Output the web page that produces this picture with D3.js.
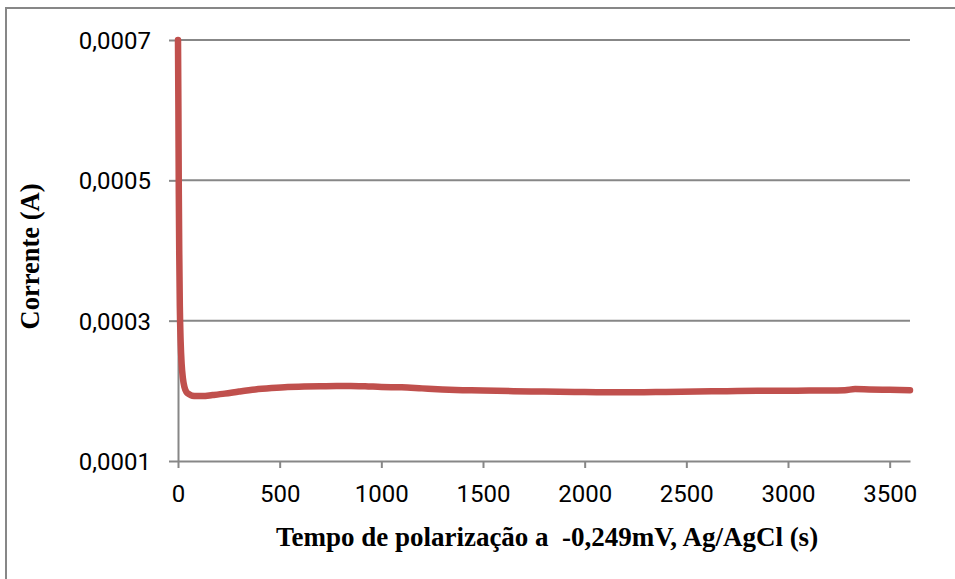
<!DOCTYPE html>
<html>
<head>
<meta charset="utf-8">
<script src="https://cdn.jsdelivr.net/npm/d3@7"></script>
<style>
  html, body { margin: 0; padding: 0; background: #fff; }
  svg { display: block; }
  .tick-label { font-family: Roboto, "Open Sans", sans-serif; font-size: 24px; fill: #000; }
  .axis-title { font-family: "Liberation Serif", "Times New Roman", serif; font-weight: bold; font-size: 26.5px; fill: #000; white-space: pre; }
</style>
</head>
<body>
<script>
// Chronoamperometry: current vs. polarization time
const timeS = [0, 2, 4, 6, 9, 13, 18, 24, 32, 42, 55, 70, 90, 120, 170, 230, 300, 380, 460, 540, 620, 700, 780, 850, 920, 1000, 1100, 1200, 1300, 1400, 1500, 1650, 1800, 1950, 2100, 2250, 2400, 2550, 2700, 2850, 3000, 3150, 3280, 3330, 3400, 3500, 3600];
const currentA = [0.00070, 0.00060, 0.00048, 0.00040, 0.00032, 0.00027, 0.000238, 0.000218, 0.000205, 0.000198, 0.000195, 0.000193, 0.0001925, 0.0001925, 0.000194, 0.000196, 0.000199, 0.000202, 0.000204, 0.0002055, 0.000206, 0.0002065, 0.000207, 0.000207, 0.0002065, 0.0002055, 0.000205, 0.0002035, 0.000202, 0.000201, 0.0002005, 0.0001995, 0.000199, 0.0001985, 0.000198, 0.000198, 0.0001985, 0.000199, 0.0001995, 0.0002, 0.0002, 0.0002005, 0.000201, 0.0002025, 0.000202, 0.0002015, 0.000201];
const xTicks = [0, 500, 1000, 1500, 2000, 2500, 3000, 3500];
const yTicks = [0.0001, 0.0003, 0.0005, 0.0007];
const yTickLabels = ["0,0001", "0,0003", "0,0005", "0,0007"];
const xTitle = "Tempo de polarização a  -0,249mV, Ag/AgCl (s)";
const yTitle = "Corrente (A)";

const W = 955, H = 579;
const plot = { left: 178, right: 910, top: 40, bottom: 461 };
const gridColor = "#878787";
const lineColor = "#c0504d";

const svg = d3.select("body").append("svg").attr("width", W).attr("height", H);

// outer chart frame
svg.append("rect")
  .attr("x", 6).attr("y", 8).attr("width", W + 10).attr("height", H + 10)
  .attr("fill", "#fff").attr("stroke", gridColor).attr("stroke-width", 2);

const x = d3.scaleLinear().domain([0, 3600]).range([plot.left, plot.right]);
const y = d3.scaleLinear().domain([0.0001, 0.0007]).range([plot.bottom, plot.top]);

// horizontal gridlines
svg.append("g").selectAll("line")
  .data(yTicks.filter(v => v > 0.0001))
  .join("line")
  .attr("x1", plot.left).attr("x2", plot.right)
  .attr("y1", d => y(d)).attr("y2", d => y(d))
  .attr("stroke", gridColor).attr("stroke-width", 2);

// y axis
const yAxis = svg.append("g").attr("transform", `translate(${plot.left},0)`)
  .call(d3.axisLeft(y).tickValues(yTicks).tickSize(9).tickSizeOuter(0)
    .tickFormat((d, i) => yTickLabels[i]));
yAxis.select(".domain").attr("stroke", gridColor).attr("stroke-width", 2);
yAxis.selectAll(".tick line").attr("stroke", gridColor).attr("stroke-width", 2);
yAxis.selectAll(".tick text").attr("class", "tick-label").attr("x", -27).attr("dy", "0.35em");

// x axis
const xAxis = svg.append("g").attr("transform", `translate(0,${plot.bottom})`)
  .call(d3.axisBottom(x).tickValues(xTicks).tickSize(7).tickSizeOuter(0).tickFormat(d3.format("d")));
xAxis.select(".domain").attr("stroke", gridColor).attr("stroke-width", 2);
xAxis.selectAll(".tick line").attr("stroke", gridColor).attr("stroke-width", 2);
xAxis.selectAll(".tick text").attr("class", "tick-label").attr("y", 24).attr("dy", "0.71em");

// current trace
const line = d3.line()
  .x((d, i) => x(timeS[i]))
  .y(d => y(d))
  .curve(d3.curveMonotoneX);
svg.append("path")
  .datum(currentA)
  .attr("d", line)
  .attr("fill", "none")
  .attr("stroke", lineColor)
  .attr("stroke-width", 6.5)
  .attr("stroke-linejoin", "round")
  .attr("stroke-linecap", "round");

// axis titles
svg.append("text").attr("class", "axis-title")
  .attr("x", 547).attr("y", 546)
  .style("font-size", "27px")
  .attr("text-anchor", "middle").text(xTitle);
svg.append("text").attr("class", "axis-title")
  .attr("transform", `translate(39,${(plot.top + plot.bottom) / 2 + 6}) rotate(-90)`)
  .attr("text-anchor", "middle").text(yTitle);
</script>
</body>
</html>
